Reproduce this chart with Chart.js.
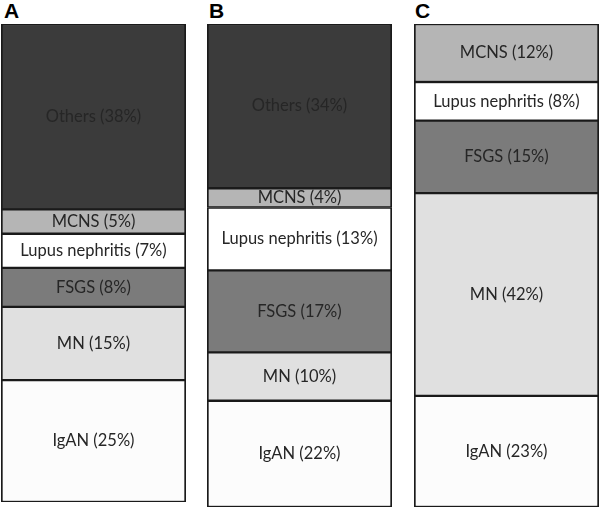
<!DOCTYPE html>
<html>
<head>
<meta charset="utf-8">
<script src="https://cdn.jsdelivr.net/npm/chart.js@4.4.1/dist/chart.umd.min.js"></script>
<style>
  body { margin: 0; background: #fff; width: 600px; height: 508px; position: relative; overflow: hidden; }
  .panel { position: absolute; }
  .letter { position: absolute; font: bold 21px/1 "Liberation Sans", Arial, sans-serif; color: #000; }
</style>
</head>
<body>
<div class="letter" style="left:4px;top:0px">A</div>
<div class="letter" style="left:209px;top:0px">B</div>
<div class="letter" style="left:415px;top:0px">C</div>
<div class="panel" style="left:1px;top:24px;width:185px;height:478px"><canvas id="chartA"></canvas></div>
<div class="panel" style="left:207px;top:24px;width:185px;height:483px"><canvas id="chartB"></canvas></div>
<div class="panel" style="left:414px;top:24px;width:185px;height:483px"><canvas id="chartC"></canvas></div>
<script>
// data, stacked from the bottom up
const categories = ['IgAN', 'MN', 'FSGS', 'Lupus nephritis', 'MCNS', 'Others'];
const valuesA = [25, 15, 8, 7, 5, 38];
const valuesB = [22, 10, 17, 13, 4, 34];
const valuesC = [23, 42, 15, 8, 12, null];
const colors = ['#fcfcfc', '#e0e0e0', '#7b7b7b', '#ffffff', '#b5b5b5', '#3b3b3b'];

// write "Name (x%)" in the middle of each segment
const segmentLabels = {
    id: 'segmentLabels',
    afterDatasetsDraw(chart) {
        const ctx = chart.ctx;
        ctx.save();
        ctx.font = '16.5px Lato, "Open Sans", sans-serif';
        ctx.fillStyle = '#262626';
        ctx.textAlign = 'center';
        ctx.textBaseline = 'middle';
        chart.data.datasets.forEach((ds, i) => {
            const v = ds.data[0];
            if (v == null) return;
            const bar = chart.getDatasetMeta(i).data[0];
            ctx.fillText(ds.label + ' (' + v + '%)', bar.x, (bar.y + bar.base) / 2);
        });
        ctx.restore();
    }
};

function makePanel(canvasId, name, values) {
    const total = values.reduce((a, b) => a + (b || 0), 0);
    new Chart(document.getElementById(canvasId), {
        type: 'bar',
        data: {
            labels: [name],
            datasets: categories.map((c, i) => ({
                label: c,
                data: [values[i]],
                backgroundColor: colors[i],
                borderColor: '#1a1a1a',
                borderWidth: { left: 2, right: 2, top: 1.5, bottom: 1.5 },
                borderSkipped: false,
                barPercentage: 1,
                categoryPercentage: 1
            }))
        },
        options: {
            responsive: true,
            maintainAspectRatio: false,
            animation: false,
            layout: { padding: 0 },
            plugins: { legend: { display: false }, tooltip: { enabled: false } },
            scales: {
                x: { stacked: true, display: false },
                y: { stacked: true, display: false, min: 0, max: total }
            }
        },
        plugins: [segmentLabels]
    });
}

makePanel('chartA', 'A', valuesA);
makePanel('chartB', 'B', valuesB);
makePanel('chartC', 'C', valuesC);
</script>
</body>
</html>
